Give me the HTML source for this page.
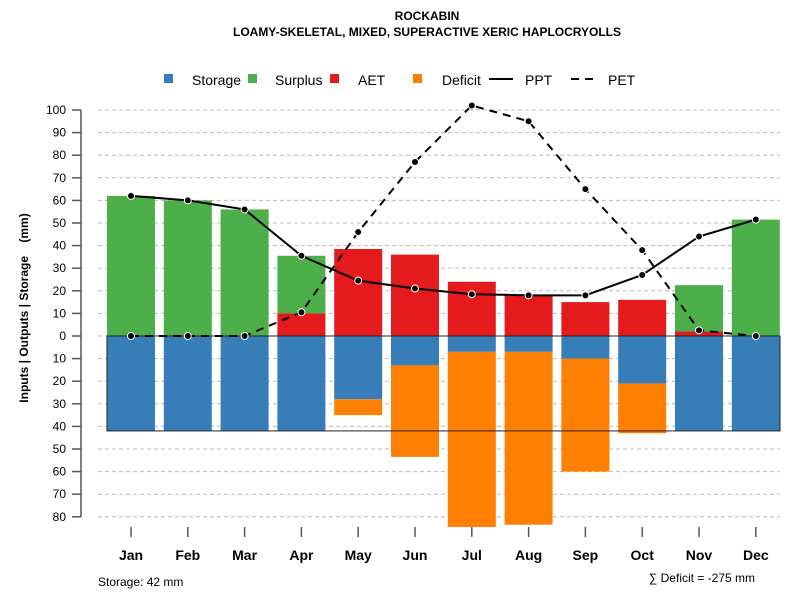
<!DOCTYPE html>
<html><head><meta charset="utf-8"><style>
body{margin:0;background:#fff}
svg{display:block;font-family:"Liberation Sans",sans-serif}
</style></head><body>
<svg id="c" width="800" height="600" xmlns="http://www.w3.org/2000/svg">
<text x="427" y="20" text-anchor="middle" font-size="12" font-weight="bold">ROCKABIN</text>
<text x="427" y="36" text-anchor="middle" font-size="12" font-weight="bold">LOAMY-SKELETAL, MIXED, SUPERACTIVE XERIC HAPLOCRYOLLS</text>
<text transform="translate(28,308) rotate(-90)" text-anchor="middle" font-size="12" font-weight="bold">Inputs | Outputs | Storage &#160;&#160;&#160;(mm)</text>
<text x="98" y="586" font-size="12">Storage: 42 mm</text>
<text x="755" y="582" text-anchor="end" font-size="12">∑ Deficit = -275 mm</text>
<g id="legend"></g>
<g id="plot"></g>
</svg>
<script>
const months=["Jan","Feb","Mar","Apr","May","Jun","Jul","Aug","Sep","Oct","Nov","Dec"];
const ppt=[62,60,56,35.5,24.5,21,18.5,18,18,27,44,51.5];
const pet=[0,0,0,10.5,46,77,102,95,65,38,2.5,0];
const aet=[0,0,0,10,38.5,36,24,18,15,16,2,0];
const surplus=[62,60,56,25.5,0,0,0,0,0,0,20.5,51.5];
const storage=[42,42,42,42,28,13,7,7,10,21,42,42];
const deficit=[0,0,0,0,7,40.5,77.5,76.5,50,22,0,0];
const yTicks=[100,90,80,70,60,50,40,30,20,10,0,-10,-20,-30,-40,-50,-60,-70,-80];
const maxStorage=42;
const NS="http://www.w3.org/2000/svg";
const y=v=>336-v*2.26;
const x=i=>131+i*56.8;
const bw=48;
const plot=document.getElementById('plot');
function mk(tag,attrs,parent){const e=document.createElementNS(NS,tag);for(const k in attrs)e.setAttribute(k,attrs[k]);(parent||plot).appendChild(e);return e;}
yTicks.forEach(t=>{
  const g=mk('line',{x1:98,x2:780,y1:y(t),y2:y(t),stroke:'#bbb','stroke-dasharray':'4,3'});
  
  
  const tk=mk('line',{x1:72,x2:81,y1:y(t),y2:y(t),stroke:'#555','stroke-width':1.5});
  
  
  const tx=mk('text',{x:66,y:y(t)+4,'text-anchor':'end','font-size':12});
  tx.textContent=Math.abs(t);
  
  
});
const ax=mk('line',{x1:81,x2:81,y1:y(100),y2:y(-80),stroke:'#555','stroke-width':1.5});


months.forEach((m,i)=>{
  const bx=x(i)-bw/2;
  function bar(v0,v1,col,name){
    if(v1===v0)return;
    const r=mk('rect',{x:bx,width:bw,y:Math.min(y(v0),y(v1)),height:Math.abs(y(v1)-y(v0)),fill:col});
    
    
  }
  bar(0,aet[i],'#E41A1C','aet-bar-'+m.toLowerCase());
  bar(aet[i],aet[i]+surplus[i],'#4DAF4A','surplus-bar-'+m.toLowerCase());
  bar(0,-storage[i],'#377EB8','storage-bar-'+m.toLowerCase());
  bar(-storage[i],-storage[i]-deficit[i],'#FF7F00','deficit-bar-'+m.toLowerCase());
  const tk=mk('line',{x1:x(i),x2:x(i),y1:527,y2:537,stroke:'#555','stroke-width':1.5});
  
  
  const tx=mk('text',{x:x(i),y:560,'text-anchor':'middle','font-size':14,'font-weight':'bold'});
  tx.textContent=m;
  
  
});
const sb=mk('rect',{x:107,y:y(0),width:673,height:y(-maxStorage)-y(0),fill:'none',stroke:'#222','stroke-width':1});


function series(vals,dash,name){
  const p=mk('polyline',{points:vals.map((v,i)=>x(i)+','+y(v)).join(' '),fill:'none',stroke:'#000','stroke-width':2,'stroke-dasharray':dash});
  
  
  vals.forEach((v,i)=>{
    const c=mk('circle',{cx:x(i),cy:y(v),r:3.5,fill:'#000',stroke:'#fff','stroke-width':1});
    
    
  });
}
series(ppt,'none','ppt');
series(pet,'8,6','pet');
const lg=document.getElementById('legend');
[["Storage","#377EB8",164,192],["Surplus","#4DAF4A",248,275],["AET","#E41A1C",330,358],["Deficit","#FF7F00",413,442]].forEach(d=>{
  const r=mk('rect',{x:d[2],y:74,width:9,height:9,fill:d[1]},lg);
  
  
  const t=mk('text',{x:d[3],y:85,'font-size':14},lg);
  t.textContent=d[0];
  
  
});
[["PPT","none",489,525],["PET","8,6",571,608]].forEach(d=>{
  const l=mk('line',{x1:d[2],x2:d[2]+24,y1:79,y2:79,stroke:'#000','stroke-width':2,'stroke-dasharray':d[1]},lg);
  
  
  const t=mk('text',{x:d[3],y:85,'font-size':14},lg);
  t.textContent=d[0];
  
  
});
</script>
</body></html>
